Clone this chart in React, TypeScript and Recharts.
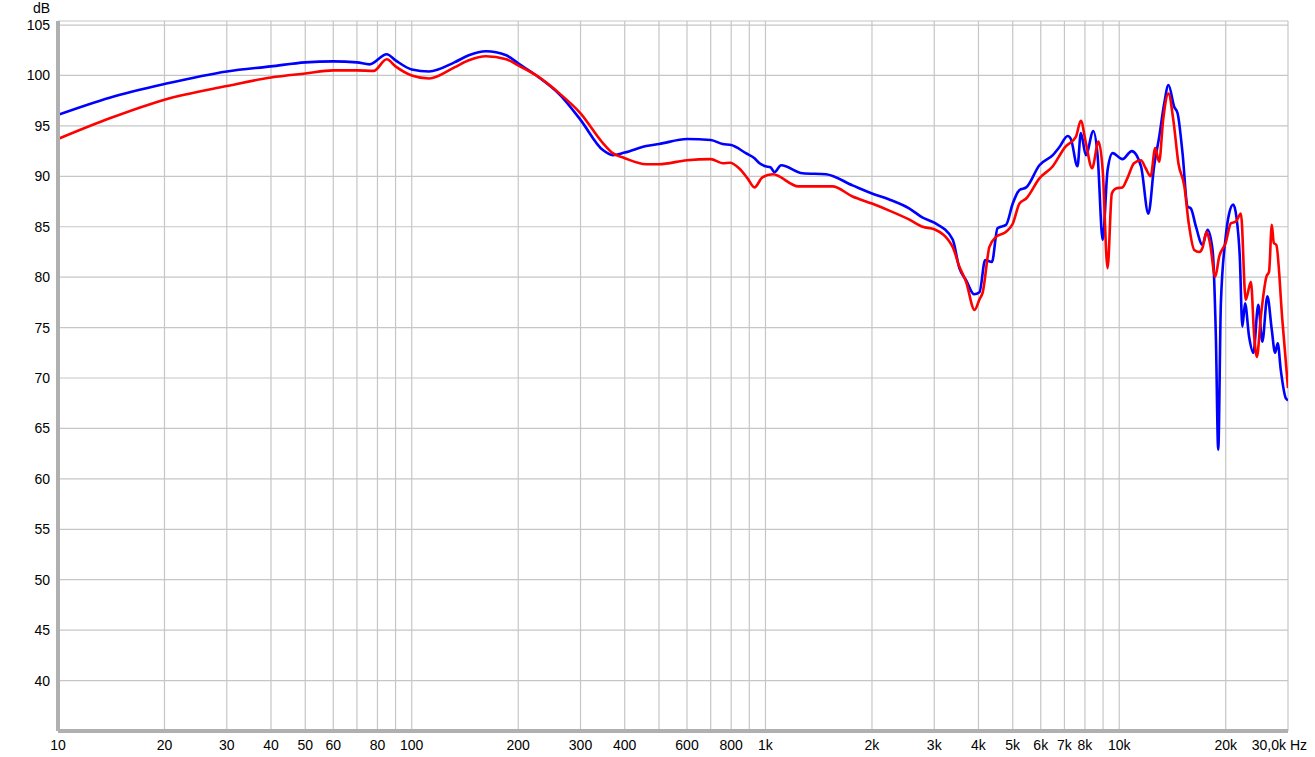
import React from 'react';
import {
  LineChart,
  Line,
  XAxis,
  YAxis,
  CartesianGrid,
  Label,
} from 'recharts';

// left channel (blue)
const blueHz = [
  10, 14, 20, 30, 40, 50, 60, 70, 76, 85, 90, 100, 112, 132, 145, 162, 185, 200, 225, 262,
  300, 347, 370, 400, 460, 500, 600, 700, 757, 800, 880, 931, 962, 1000, 1033, 1060, 1107,
  1274, 1483, 1762, 2000, 2239, 2553, 2782, 3000, 3381, 3532, 3690, 3890, 4027, 4179, 4365,
  4528, 4789, 5000, 5225, 5458, 5948, 6490, 6776, 7150, 7300, 7620, 7790, 8050, 8450, 8690,
  8980, 9270, 9580, 10210, 10850, 11520, 12090, 12550, 12970, 13400, 13780, 14300, 14620,
  15100, 15600, 15950, 16480, 17190, 17770, 18360, 18760, 19050, 19380, 20000, 20450, 21000,
  21440, 21920, 22290, 22680, 23290, 23950, 24720, 25380, 26230, 26990, 27580, 28060, 28620,
  29570, 30000,
];
const blueDb = [
  96.1, 97.8, 99.15, 100.4, 100.9, 101.3, 101.4, 101.3, 101.1, 102.1, 101.5, 100.6, 100.4,
  101.3, 102.0, 102.4, 102.0, 101.2, 100.0, 98.1, 95.6, 92.6, 92.1, 92.35, 93.0, 93.2, 93.7,
  93.6, 93.2, 93.1, 92.3, 91.8, 91.3, 91.0, 90.9, 90.4, 91.1, 90.3, 90.2, 89.1, 88.3, 87.7,
  86.8, 85.9, 85.4, 83.75, 80.9, 79.7, 78.3, 78.5, 81.7, 81.5, 84.85, 85.2, 87.3, 88.65, 88.9,
  91.1, 92.1, 92.9, 94.0, 93.7, 91.0, 94.3, 92.1, 94.5, 92.0, 83.7, 90.6, 92.3, 91.7, 92.5,
  91.0, 86.3, 91.0, 93.9, 97.2, 99.05, 96.9, 96.25, 92.3, 87.0, 86.8, 85.0, 83.2, 84.7, 82.7,
  74.1, 62.9, 77.4, 84.0, 86.3, 87.2, 86.0, 82.0, 75.1, 77.4, 74.1, 72.5, 77.25, 73.6, 78.1,
  74.8, 72.5, 73.45, 70.8, 68.0, 67.8,
];

// right channel (red)
const redHz = [
  10, 14, 20, 30, 40, 50, 60, 70, 78, 85, 90, 100, 112, 132, 145, 162, 185, 200, 225, 262,
  300, 347, 370, 400, 460, 500, 600, 700, 757, 794, 842, 890, 931, 980, 1048, 1240, 1545,
  1762, 2000, 2239, 2553, 2782, 3000, 3381, 3532, 3690, 3900, 4027, 4113, 4296, 4486, 4789,
  5000, 5225, 5458, 5948, 6490, 7030, 7540, 7790, 8050, 8380, 8740, 8980, 9270, 9530, 9790,
  10210, 10540, 11010, 11520, 11880, 12270, 12640, 12970, 13310, 13780, 14220, 14700, 15280,
  15720, 16290, 16830, 17190, 17650, 18050, 18680, 19160, 20000, 20700, 21360, 22080, 22780,
  23560, 24080, 24500, 25140, 26070, 26520, 27000, 27350, 27800, 28910, 30000,
];
const redDb = [
  93.7, 95.75, 97.6, 98.95, 99.8, 100.2, 100.5, 100.5, 100.45, 101.6, 100.9, 100.0, 99.7,
  100.8, 101.5, 101.9, 101.6, 101.0, 100.0, 98.2, 96.25, 93.3, 92.3, 91.8, 91.2, 91.2, 91.6,
  91.7, 91.3, 91.35, 90.8, 89.8, 88.9, 89.9, 90.2, 89.0, 89.0, 88.0, 87.3, 86.6, 85.7, 85.0,
  84.75, 83.0, 81.05, 79.55, 76.75, 77.8, 78.5, 83.0, 84.0, 84.5, 85.3, 87.3, 87.8, 89.8,
  91.0, 92.9, 93.9, 95.5, 93.3, 90.8, 93.45, 90.6, 80.9, 88.3, 88.8, 88.9, 89.8, 91.3, 91.6,
  90.8, 90.0, 92.8, 91.45, 95.6, 98.2, 95.6, 91.3, 89.0, 85.35, 82.7, 82.5, 82.9, 84.5, 83.4,
  80.05, 82.0, 83.4, 85.35, 85.5, 86.3, 77.75, 79.55, 74.1, 72.1, 76.1, 80.05, 80.55, 85.2,
  83.4, 83.2, 75.8, 69.0,
];

const freqTicks = [
  10, 20, 30, 40, 50, 60, 70, 80, 90, 100, 200, 300, 400, 500, 600, 700, 800, 900, 1000,
  2000, 3000, 4000, 5000, 6000, 7000, 8000, 9000, 10000, 20000, 30000,
];
const freqLabels = [
  '10', '20', '30', '40', '50', '60', '', '80', '', '100', '200', '300', '400', '', '600', '',
  '800', '', '1k', '2k', '3k', '4k', '5k', '6k', '7k', '8k', '', '10k', '20k', '30,0k Hz',
];
const dbTicks = [40, 45, 50, 55, 60, 65, 70, 75, 80, 85, 90, 95, 100, 105];

const blueData = blueHz.map((hz, i) => ({ hz, db: blueDb[i] }));
const redData = redHz.map((hz, i) => ({ hz, db: redDb[i] }));

const FONT = '"Liberation Sans", Arial, sans-serif';
const FRAME = '#b0b0b0';

const FreqTick = (props: any) => {
  const { x, y, payload } = props;
  const idx = freqTicks.indexOf(payload.value);
  const text = idx >= 0 ? freqLabels[idx] : '';
  if (!text) return null;
  const last = payload.value === 30000;
  return (
    <text
      x={last ? x + 19 : x}
      y={y + 19}
      textAnchor={last ? 'end' : 'middle'}
      fill="#000"
      fontSize={14}
      fontFamily={FONT}
    >
      {text}
    </text>
  );
};

export default function App() {
  return (
    <div style={{ position: 'absolute', left: 0, top: 0, background: '#fff' }}>
      <LineChart width={1315} height={757} margin={{ top: 21, right: 27, left: 0, bottom: 0 }}>
        <CartesianGrid stroke="#c6c6c6" strokeWidth={1.2} />
        <XAxis
          dataKey="hz"
          type="number"
          scale="log"
          domain={[10, 30000]}
          ticks={freqTicks}
          allowDataOverflow
          height={26}
          tickLine={false}
          tickSize={0}
          tickMargin={0}
          axisLine={{ stroke: FRAME, strokeWidth: 4 }}
          tick={<FreqTick />}
          interval={0}
        />
        <XAxis
          xAxisId="top"
          orientation="top"
          type="number"
          domain={[10, 30000]}
          height={0}
          tick={false}
          tickLine={false}
          axisLine={{ stroke: FRAME, strokeWidth: 2 }}
        />
        <YAxis
          type="number"
          domain={[35, 105.4]}
          ticks={dbTicks}
          allowDataOverflow
          width={58}
          tickLine={false}
          tickSize={0}
          tickMargin={8}
          interval={0}
          axisLine={{ stroke: FRAME, strokeWidth: 4 }}
          tick={{ fill: '#000', fontSize: 14, fontFamily: FONT }}
        >
          <Label
            content={(p: any) => {
              const vb = p.viewBox || { x: 0, y: 21, width: 58 };
              return (
                <text
                  x={vb.x + vb.width - 8}
                  y={vb.y - 8}
                  textAnchor="end"
                  fill="#000"
                  fontSize={14}
                  fontFamily={FONT}
                >
                  dB
                </text>
              );
            }}
          />
        </YAxis>
        <YAxis
          yAxisId="right"
          orientation="right"
          type="number"
          domain={[35, 105.4]}
          width={0}
          tick={false}
          tickLine={false}
          axisLine={{ stroke: FRAME, strokeWidth: 4 }}
        />
        <Line
          data={blueData}
          dataKey="db"
          type="monotone"
          stroke="#0000ff"
          strokeWidth={2.6}
          dot={false}
          isAnimationActive={false}
        />
        <Line
          data={redData}
          dataKey="db"
          type="monotone"
          stroke="#ff0000"
          strokeWidth={2.6}
          dot={false}
          isAnimationActive={false}
        />
      </LineChart>
    </div>
  );
}
